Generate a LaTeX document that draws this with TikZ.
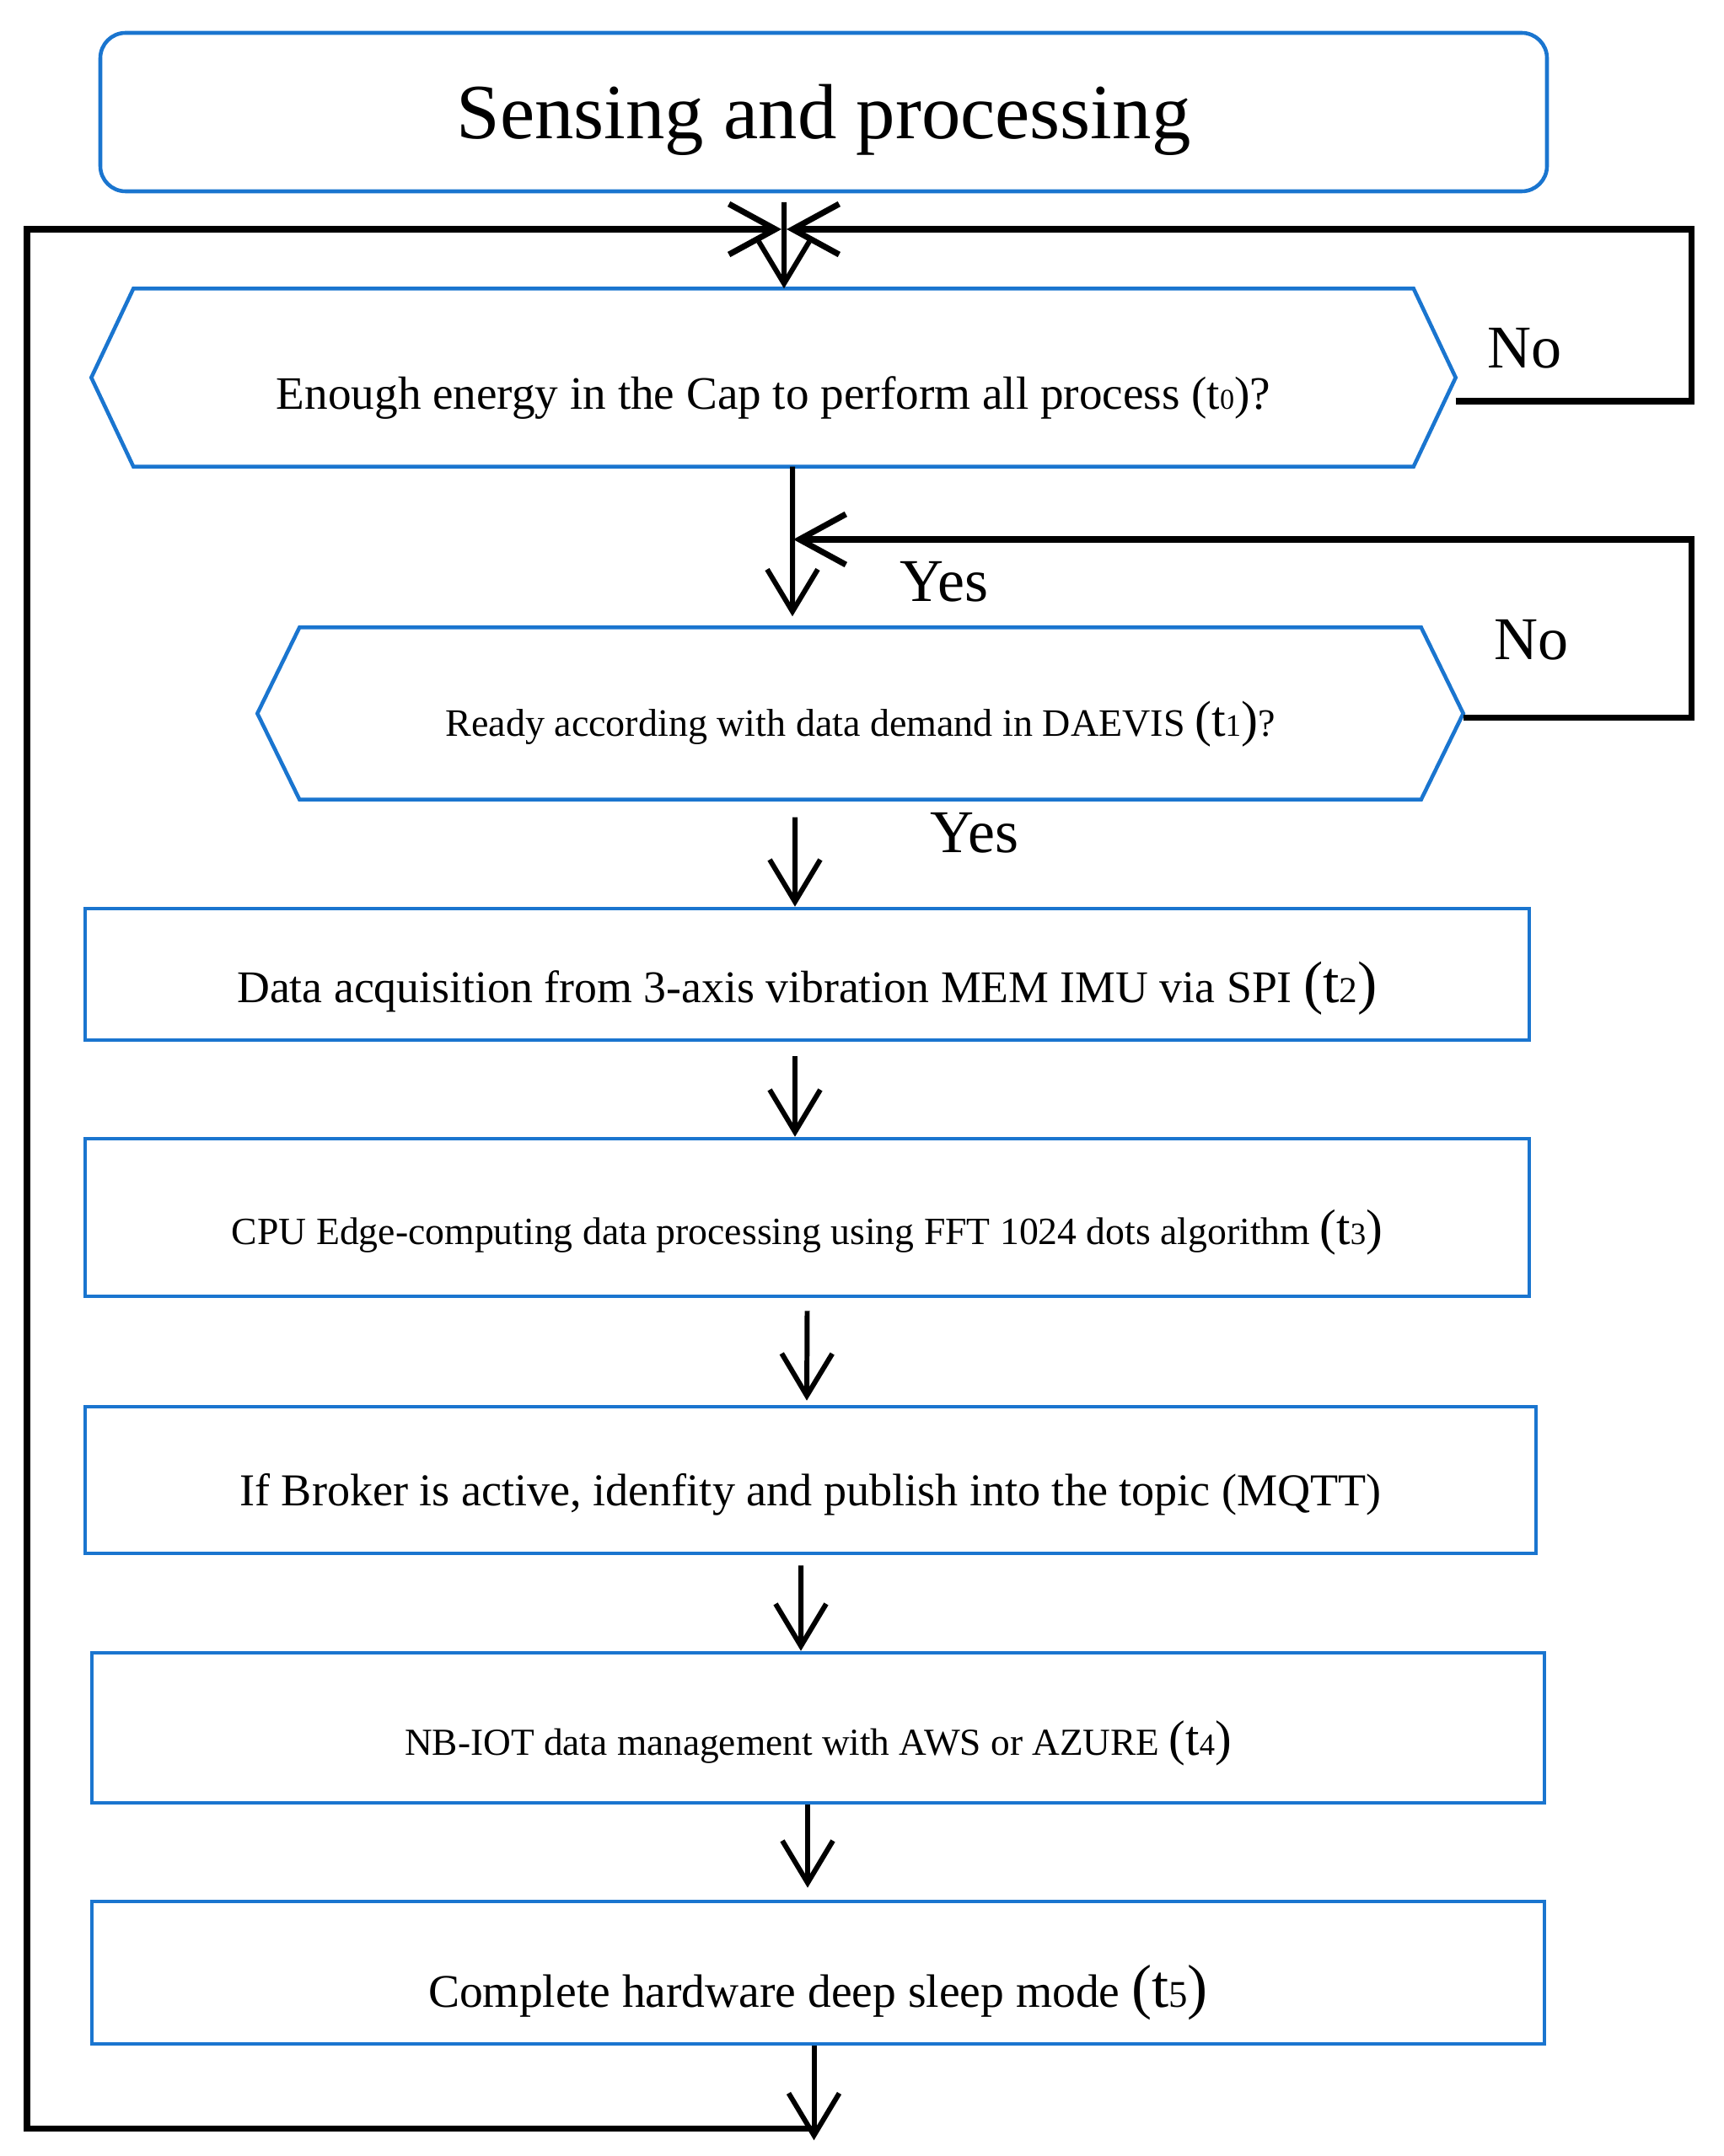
\documentclass[tikz,border=0pt]{standalone}
\usepackage{fontspec}
\setmainfont{Liberation Serif}
\usetikzlibrary{arrows.meta}

\definecolor{boxblue}{RGB}{26,117,207}
\newcommand*{\fs}[1]{\fontsize{#1}{#1}\selectfont}
\newcommand*{\tn}[1]{t\scalebox{0.62}{#1}}

\begin{document}
\begin{tikzpicture}
[
	blueline/.style={draw=boxblue,line width=1.3pt},
	titlebox/.style={blueline,rounded corners=3mm,inner sep=0pt},
	stepbox/.style={blueline,inner sep=0pt,minimum width=17.13cm},
	hexbox/.style={inner sep=0pt},
	flow/.style={-{Straight Barb[length=5mm,width=6mm]},line width=1.7pt},
	loopline/.style={-{Straight Barb[length=5.5mm,width=6mm]},line width=2pt},
	answer/.style={anchor=base,font=\fs{20.5pt}}
]

	\useasboundingbox (0,0) rectangle (20.44,-25.58);

	% title
	\node[titlebox,minimum width=17.16cm,minimum height=1.88cm,text height=6.4mm,text depth=0pt,font=\fs{26.4pt}]
		(title) at (9.77,-1.33) {Sensing and processing};

	% decisions
	\node[hexbox,minimum width=16.17cm,minimum height=2.10cm,text height=7.6mm,text depth=0pt,font=\fs{15.7pt}]
		(q0) at (9.175,-4.48) {Enough energy in the Cap to perform all process (\tn{0})?};
	\node[hexbox,minimum width=14.29cm,minimum height=2.03cm,text height=5.3mm,text depth=0pt,font=\fs{13.1pt}]
		(q1) at (10.205,-8.465) {Ready according with data demand in DAEVIS \scalebox{1.3}{(\tn{1})}?};
	\foreach \h in {q0,q1}
		\draw[blueline] (\h.west) -- ([xshift=5mm]\h.north west) -- ([xshift=-5mm]\h.north east)
			-- (\h.east) -- ([xshift=-5mm]\h.south east) -- ([xshift=5mm]\h.south west) -- cycle;

	% steps
	\node[stepbox,minimum height=1.56cm,text height=6.6mm,text depth=0pt,font=\fs{15.3pt}]
		(s2) at (9.575,-11.56) {Data acquisition from 3-axis vibration MEM IMU via SPI \scalebox{1.3}{(\tn{2})}};
	\node[stepbox,minimum height=1.87cm,text height=6.3mm,text depth=0pt,font=\fs{13pt}]
		(s3) at (9.575,-14.445) {CPU Edge-computing data processing using FFT 1024 dots algorithm \scalebox{1.3}{(\tn{3})}};
	\node[stepbox,minimum width=17.21cm,minimum height=1.74cm,text height=6mm,text depth=0pt,font=\fs{15.4pt}]
		(s4) at (9.615,-17.56) {If Broker is active, idenfity and publish into the topic (MQTT)};
	\node[stepbox,minimum width=17.23cm,minimum height=1.78cm,text height=6.4mm,text depth=0pt,font=\fs{12.9pt}]
		(s5) at (9.705,-20.50) {NB-IOT data management with AWS or AZURE \scalebox{1.3}{(\tn{4})}};
	\node[stepbox,minimum width=17.23cm,minimum height=1.69cm,text height=8.2mm,text depth=0pt,font=\fs{15.8pt}]
		(s6) at (9.705,-23.405) {Complete hardware deep sleep mode \scalebox{1.3}{(\tn{5})}};

	% answers
	\node[answer] (no0) at (18.08,-4.37) {No};
	\node[answer] (no1) at (18.16,-7.82) {No};
	\node[answer] (yes0) at (11.20,-7.13) {Yes};
	\node[answer] (yes1) at (11.56,-10.11) {Yes};

	% joints
	\coordinate (start) at (9.30,-2.40);
	\coordinate (join) at (9.27,-2.72);
	\coordinate (rejoin) at (9.41,-6.40);
	\coordinate (back) at (9.70,-25.25);

	% main flow
	\draw[flow] (start) -- ([xshift=1.25mm]q0.north);
	\draw[flow] ([xshift=2.25mm]q0.south) -- ([xshift=-8.05mm,yshift=1.3mm]q1.north);
	\draw[flow] ([xshift=-7.75mm,yshift=-2.1mm]q1.south) -- ([xshift=-1.45mm]s2.north);
	\draw[flow] ([xshift=-1.45mm,yshift=-1.7mm]s2.south) -- ([xshift=-1.45mm]s3.north);
	\draw[flow] ([yshift=-1.5mm]s3.south) -- ([xshift=-0.45mm,yshift=0.5mm]s4.north);
	\draw[flow] ([xshift=-1.15mm,yshift=-1.2mm]s4.south) -- ([xshift=-2.05mm]s5.north);
	\draw[flow] ([xshift=-1.25mm]s5.south) -- ([xshift=-1.25mm,yshift=1.4mm]s6.north);
	\draw[flow] ([xshift=-0.5mm]s6.south) -- ([xshift=-0.5mm,yshift=-1.12cm]s6.south);

	% loops
	\draw[loopline] (back) -- (0.32,-25.25) -- (0.32,-2.72) -- (join);
	\draw[loopline] ([yshift=-2.8mm]q0.east) -- ++(2.80,0) |- ([xshift=0.6mm]join);
	\draw[loopline] ([yshift=-0.5mm]q1.east) -- ++(2.71,0) |- (rejoin);

\end{tikzpicture}
\end{document}
